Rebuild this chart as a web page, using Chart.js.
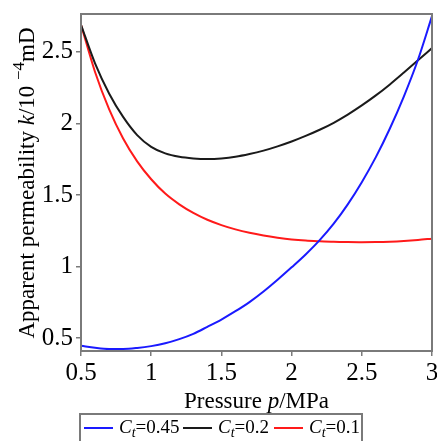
<!DOCTYPE html>
<html>
<head>
<meta charset="utf-8">
<script src="https://cdn.jsdelivr.net/npm/chart.js@4/dist/chart.umd.min.js"></script>
<style>
  body { margin: 0; background: #fff; }
  #wrap { width: 437px; height: 441px; position: relative; }
</style>
</head>
<body>
<div id="wrap"><canvas id="permChart"></canvas></div>
<script>
// pressure p / MPa
var pressures = [0.5, 0.6, 0.7, 0.8, 0.9, 1.0, 1.1, 1.2, 1.3, 1.4, 1.5, 1.6, 1.7,
                 1.8, 1.9, 2.0, 2.1, 2.2, 2.3, 2.4, 2.5, 2.6, 2.7, 2.8, 2.9, 3.0];
// apparent permeability k / 10^-4 mD
var kCt045 = [0.446, 0.432, 0.424, 0.424, 0.431, 0.444, 0.464, 0.493, 0.530, 0.579, 0.630, 0.688, 0.752,
              0.826, 0.908, 0.995, 1.085, 1.185, 1.300, 1.435, 1.590, 1.765, 1.965, 2.190, 2.445, 2.750];
var kCt02  = [2.690, 2.420, 2.210, 2.046, 1.919, 1.837, 1.791, 1.767, 1.756, 1.752, 1.756, 1.767, 1.786,
              1.810, 1.840, 1.874, 1.913, 1.956, 2.005, 2.062, 2.126, 2.196, 2.273, 2.356, 2.441, 2.527];
var kCt01  = [2.690, 2.360, 2.100, 1.895, 1.735, 1.610, 1.510, 1.435, 1.375, 1.327, 1.290, 1.260, 1.236,
              1.217, 1.202, 1.190, 1.182, 1.177, 1.173, 1.171, 1.170, 1.171, 1.174, 1.179, 1.186, 1.195];
var ctValues = ['0.45', '0.2', '0.1'];
var xTicks = [0.5, 1, 1.5, 2, 2.5, 3];
var yTicks = [0.5, 1, 1.5, 2, 2.5];

var serif = "'Liberation Serif', 'Times New Roman', serif";
var axisGray = '#7a7a7a';

function pts(ys) {
    return pressures.map(function (p, i) { return { x: p, y: ys[i] }; });
}

// text pieces (normal / italic / sub / sup) drawn one after another
function richWidth(ctx, parts) {
    var w = 0;
    parts.forEach(function (pt) {
        ctx.font = (pt.italic ? 'italic ' : '') + pt.size + 'px ' + serif;
        w += ctx.measureText(pt.t).width;
    });
    return w;
}
function drawRich(ctx, parts, x, y, center) {
    var start = center ? x - richWidth(ctx, parts) / 2 : x;
    parts.forEach(function (pt) {
        ctx.font = (pt.italic ? 'italic ' : '') + pt.size + 'px ' + serif;
        ctx.fillText(pt.t, start, y + (pt.dy || 0));
        start += ctx.measureText(pt.t).width;
    });
}

var decorations = {
    id: 'decorations',
    afterDraw: function (chart) {
        var ctx = chart.ctx;
        var a = chart.chartArea;
        ctx.save();
        // frame round the plot
        ctx.strokeStyle = axisGray;
        ctx.lineWidth = 2;
        ctx.strokeRect(a.left, a.top, a.right - a.left, a.bottom - a.top);

        ctx.fillStyle = '#000';
        ctx.textBaseline = 'middle';
        // x title
        drawRich(ctx, [
            { t: 'Pressure ', size: 23 },
            { t: 'p', size: 23, italic: true },
            { t: '/MPa', size: 23 }
        ], (a.left + a.right) / 2, 402, true);

        // y title
        ctx.save();
        ctx.translate(28, 183);
        ctx.rotate(-Math.PI / 2);
        drawRich(ctx, [
            { t: 'Apparent permeability ', size: 23 },
            { t: 'k', size: 23, italic: true },
            { t: '/10 ', size: 23 },
            { t: '\u22124', size: 17, dy: -8 },
            { t: 'mD', size: 23 }
        ], 0, 0, true);
        ctx.restore();

        // legend box
        ctx.strokeStyle = axisGray;
        ctx.lineWidth = 2;
        ctx.strokeRect(80, 414, 282, 34);
        var lx = [84, 183, 274];
        chart.data.datasets.forEach(function (ds, i) {
            ctx.strokeStyle = ds.borderColor;
            ctx.lineWidth = 2;
            ctx.beginPath();
            ctx.moveTo(lx[i], 428);
            ctx.lineTo(lx[i] + 29, 428);
            ctx.stroke();
            drawRich(ctx, [
                { t: 'C', size: 19, italic: true },
                { t: 't', size: 14, italic: true, dy: 5 },
                { t: '=' + ctValues[i], size: 19 }
            ], lx[i] + 35, 428, false);
        });
        ctx.restore();
    }
};

var lineStyle = { borderWidth: 2, pointRadius: 0, fill: false, cubicInterpolationMode: 'monotone' };

new Chart(document.getElementById('permChart'), {
    type: 'line',
    data: {
        datasets: [
            Object.assign({ label: 'Ct=0.45', data: pts(kCt045), borderColor: '#1a1aff' }, lineStyle),
            Object.assign({ label: 'Ct=0.2', data: pts(kCt02), borderColor: '#1a1a1a' }, lineStyle),
            Object.assign({ label: 'Ct=0.1', data: pts(kCt01), borderColor: '#ff1a1a' }, lineStyle)
        ]
    },
    options: {
        responsive: true,
        maintainAspectRatio: false,
        animation: false,
        layout: { padding: { top: 14, right: 5, left: 0, bottom: 0 } },
        plugins: { legend: { display: false }, tooltip: { enabled: false } },
        scales: {
            x: {
                type: 'linear',
                min: 0.5,
                max: 3,
                afterBuildTicks: function (s) { s.ticks = xTicks.map(function (v) { return { value: v }; }); },
                afterFit: function (s) { s.height = 90; s.paddingLeft = 0; s.paddingRight = 0; },
                ticks: { autoSkip: false, maxRotation: 0, color: '#000', padding: 2,
                         font: { family: serif, size: 25 }, callback: function (v) { return String(v); } },
                grid: { drawOnChartArea: false, drawTicks: true, tickLength: 5, color: axisGray, lineWidth: 1.5 },
                border: { color: axisGray, width: 2 }
            },
            y: {
                min: 0.41,
                max: 2.765,
                afterBuildTicks: function (s) { s.ticks = yTicks.map(function (v) { return { value: v }; }); },
                afterFit: function (s) { s.width = 81; s.paddingTop = 0; s.paddingBottom = 0; },
                ticks: { autoSkip: false, color: '#000', padding: 3,
                         font: { family: serif, size: 25 }, callback: function (v) { return String(v); } },
                grid: { drawOnChartArea: false, drawTicks: true, tickLength: 5, color: axisGray, lineWidth: 1.5 },
                border: { color: axisGray, width: 2 }
            }
        }
    },
    plugins: [decorations]
});
</script>
</body>
</html>
